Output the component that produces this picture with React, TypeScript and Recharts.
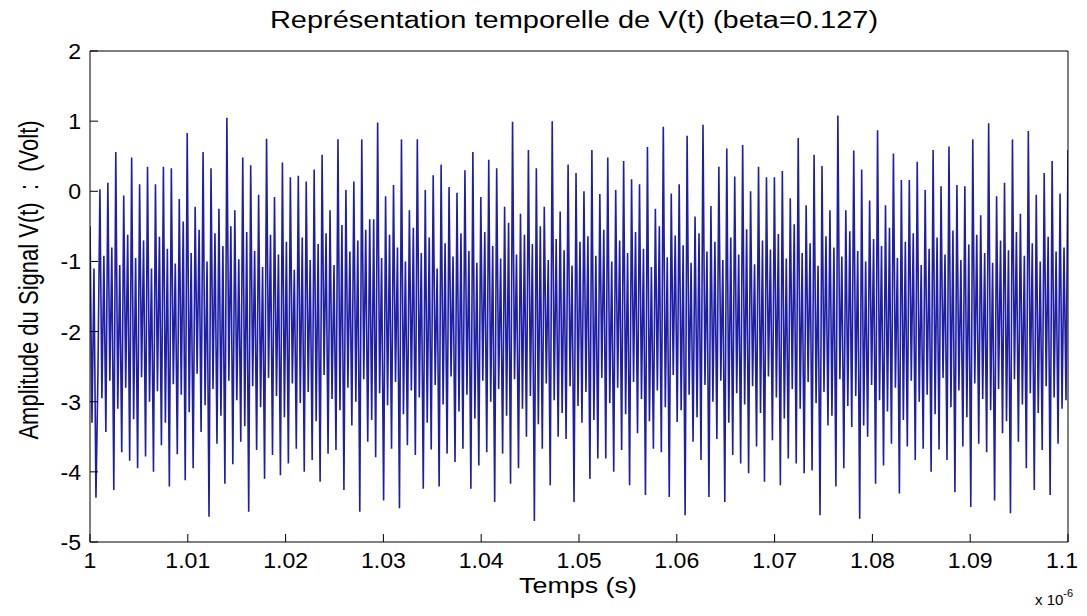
import React from 'react';
import { LineChart, Line, XAxis, YAxis } from 'recharts';

// axes
const T_START = 1;
const T_END = 1.1;
const xTicks = [1, 1.01, 1.02, 1.03, 1.04, 1.05, 1.06, 1.07, 1.08, 1.09, 1.1];
const xTickLabels = ['1', '1.01', '1.02', '1.03', '1.04', '1.05', '1.06', '1.07', '1.08', '1.09', '1.1'];
const yTicks = [-5, -4, -3, -2, -1, 0, 1, 2];

// V(t), one oscillation at a time (Volt)
const leadIn = [-0.5, -3.3, -1.1, -4.37, -2.6];

// tall spike tops
const peaks = [
    0.03, 0.12, 0.56, -0.06, 0.48, 0.10, 0.35, 0.10, 0.35, 0.33,
    -0.11, 0.83, -0.22, 0.56, 0.33, -0.25, 1.05, -0.27, 0.48, 0.37,
    -0.05, 0.75, -0.08, 0.41, 0.20, 0.22, 0.14, 0.31, 0.52, -0.27,
    0.74, 0.02, 0.14, 0.74, -0.40, 0.98, -0.07, 0.09, 0.74, -0.27,
    0.74, 0.02, 0.23, 0.38, 0.06, -0.02, 0.30, 0.56, -0.08, 0.45,
    0.33, -0.22, 0.99, -0.32, 0.59, 0.33, -0.22, 1.00, -0.29, 0.38,
    0.26, 0.00,
    0.59, -0.04, 0.48, 0.02, 0.43, 0.17, 0.10, 0.63, -0.25, 0.92,
    -0.03, 0.10, 0.79, -0.36, 0.95, -0.21, 0.35, 0.61, 0.21, 0.66,
    0.00, 0.35, 0.20, 0.20, 0.29, -0.10, 0.76, -0.20, 0.52, 0.36,
    -0.27, 1.08, -0.27, 0.58, 0.31, -0.13, 0.87, -0.20, 0.54, 0.16,
    0.16, 0.42, 0.02, 0.59, 0.07, 0.64, 0.09, 0.07, 0.74, -0.34,
    0.97, -0.07, 0.12, 0.74, -0.32, 0.86, -0.05, 0.26, 0.43, -0.03,
    0.59,
];

// lower edge of the dense band
const midLows = [
    -2.95, -2.70, -3.10, -2.80, -3.25, -2.65, -3.00, -2.85, -3.30, -2.75,
    -2.90, -3.15, -2.60, -3.05, -2.82, -3.20, -2.70, -2.98, -3.35, -2.78,
    -3.08, -2.66, -2.92, -3.22, -2.74, -3.02, -2.86, -3.28, -2.62, -2.96,
    -3.12, -2.80, -3.00, -2.68, -3.26, -2.88, -3.05, -2.72, -3.18, -2.84,
    -2.94, -3.30, -2.76, -3.04, -2.64, -3.14, -2.90, -3.24, -2.70, -3.00,
    -2.82, -3.20, -2.68, -3.10, -2.92, -3.32, -2.74, -2.98, -3.16, -2.78,
    -3.06, -2.86, -3.26, -2.66, -3.02, -2.80, -3.18, -2.72, -2.96, -3.28,
    -2.84, -3.08, -2.62, -3.12, -2.90, -3.22, -2.76, -3.00, -2.70, -3.30,
    -2.88, -3.04, -2.78, -3.16, -2.64, -2.94, -3.24, -2.82, -3.10, -2.72,
    -3.02, -2.86, -3.20, -2.68, -3.06, -2.92, -3.34, -2.76, -2.98, -3.14,
    -2.80, -3.26, -2.70, -3.00, -2.90, -3.18, -2.66, -3.08, -2.84, -3.22,
    -2.74, -2.96, -3.12, -2.82, -3.28, -2.68, -3.04, -2.88, -3.16, -2.78,
    -2.94, -3.10,
];

// upper edge of the dense band
const midHighs = [
    -0.92, -0.80, -1.05, -0.62, -0.95, -0.70, -1.10, -0.65, -0.82, -1.03,
    -0.43, -0.88, -0.55, -1.00, -0.60, -0.78, -0.50, -0.97, -0.58, -0.85,
    -1.08, -0.62, -0.90, -0.72, -1.12, -0.66, -0.98, -0.75, -0.60, -1.05,
    -0.48, -0.86, -0.70, -0.55, -0.40, -0.95, -0.62, -0.80, -1.00, -0.52,
    -0.88, -0.66, -1.10, -0.74, -0.93, -0.60, -0.85, -1.02, -0.58, -0.78,
    -0.96, -0.45, -0.90, -0.62, -0.75, -0.50, -0.98, -0.68, -0.84, -1.06,
    -0.72, -0.64, -0.92, -0.55, -1.00, -0.70, -0.88, -0.58, -0.82, -1.08,
    -0.50, -0.94, -0.63, -0.77, -1.02, -0.60, -0.86, -0.72, -0.98, -0.66,
    -0.90, -0.54, -1.04, -0.70, -0.83, -0.61, -0.96, -0.47, -0.88, -0.74,
    -1.06, -0.64, -0.80, -0.93, -0.57, -0.85, -1.00, -0.68, -0.78, -0.52,
    -0.95, -0.72, -0.60, -1.05, -0.82, -0.66, -0.90, -0.56, -0.98, -0.76,
    -0.62, -0.88, -1.02, -0.70, -0.84, -0.58, -0.92, -0.74, -1.00, -0.65,
    -0.86, -0.80,
];

// deep spike bottoms
const troughs = [
    -3.43, -4.26, -3.72, -3.84, -3.95, -3.78, -4.00, -3.62, -4.21, -3.75,
    -4.12, -3.95, -3.43, -4.64, -3.60, -4.17, -3.89, -3.57, -4.57, -3.69,
    -4.10, -3.76, -4.05, -3.88, -3.67, -4.00, -3.83, -4.14, -3.74, -3.69,
    -4.26, -3.34, -4.57, -3.57, -3.79, -4.41, -3.67, -4.52, -3.62, -3.76,
    -4.24, -3.68, -4.21, -3.74, -3.86, -3.67, -4.24, -3.91, -3.72, -4.43,
    -3.74, -4.17, -3.95, -3.50, -4.70, -3.67, -4.19, -3.50, -3.53, -4.43,
    -3.30,
    -4.10, -3.81, -3.81, -4.00, -3.69, -4.19, -3.45, -4.33, -3.67, -3.72,
    -4.36, -3.29, -4.62, -3.57, -3.83, -4.36, -3.53, -4.43, -3.76, -3.88,
    -4.02, -3.64, -4.14, -3.55, -4.19, -3.81, -3.88, -4.02, -3.98, -4.62,
    -3.34, -4.21, -3.95, -3.36, -4.67, -3.50, -4.17, -3.91, -3.60, -4.31,
    -3.64, -3.83, -3.67, -4.00, -3.68, -3.83, -4.29, -3.64, -4.50, -3.60,
    -3.72, -4.41, -3.45, -4.59, -3.57, -3.95, -4.26, -3.69, -4.33, -3.60,
    -2.98,
];

// samples in time order
const samples: number[] = [...leadIn];
troughs.forEach((tr, k) => {
    samples.push(peaks[k], midLows[k], midHighs[k], tr);
});
samples.push(peaks[peaks.length - 1]);

const dt = (T_END - T_START) / (samples.length - 1);
const chartData = samples.map((v, i) => ({ t: T_START + i * dt, v }));

const FONT = '"Liberation Sans", Arial, Helvetica, sans-serif';
const STRETCH = 1.22;
const LINE_COLOR = '#1e1ea6';

const BottomTick = ({ x, y, payload }: any) => {
    const idx = xTicks.indexOf(payload.value);
    const label = idx >= 0 ? xTickLabels[idx] : String(payload.value);
    // the last label sits at the picture's right edge: keep it inside
    const last = idx === xTicks.length - 1;
    return (
        <text
            transform={`translate(${last ? x + 10 : x},${y + 26}) scale(1.05,1)`}
            textAnchor={last ? 'end' : 'middle'}
            fontSize={22}
            fontFamily={FONT}
            fill="#000"
        >
            {label}
        </text>
    );
};

const LeftTick = ({ x, y, payload }: any) => (
    <text
        transform={`translate(${x - 9},${y + 8}) scale(1.05,1)`}
        textAnchor="end"
        fontSize={22}
        fontFamily={FONT}
        fill="#000"
    >
        {payload.value}
    </text>
);

const abs = (left: number, top: number): React.CSSProperties => ({
    position: 'absolute',
    left,
    top,
    fontFamily: FONT,
    color: '#000',
    whiteSpace: 'pre',
    lineHeight: 1,
});

export default function App() {
    const axisStroke = { stroke: '#000', strokeWidth: 1 };
    return (
        <div style={{ position: 'relative', width: 1071, height: 600, background: '#fff' }}>
            <style>{'html{overflow:hidden}.recharts-surface{overflow:visible}'}</style>
            <LineChart
                width={1071}
                height={600}
                data={chartData}
                margin={{ top: 42, right: 10, bottom: 36, left: 22 }}
            >
                <XAxis
                    dataKey="t"
                    type="number"
                    domain={[T_START, T_END]}
                    ticks={xTicks}
                    interval={0}
                    height={30}
                    tickSize={-8}
                    tickMargin={8}
                    axisLine={axisStroke}
                    tickLine={axisStroke}
                    tick={<BottomTick />}
                    allowDataOverflow
                />
                <XAxis
                    xAxisId="top"
                    orientation="top"
                    dataKey="t"
                    type="number"
                    domain={[T_START, T_END]}
                    ticks={xTicks}
                    interval={0}
                    height={1}
                    tickSize={-8}
                    axisLine={axisStroke}
                    tickLine={axisStroke}
                    tick={false}
                    allowDataOverflow
                />
                <YAxis
                    type="number"
                    domain={[-5, 2]}
                    ticks={yTicks}
                    interval={0}
                    width={60}
                    tickSize={-8}
                    tickMargin={8}
                    axisLine={axisStroke}
                    tickLine={axisStroke}
                    tick={<LeftTick />}
                    allowDataOverflow
                />
                <YAxis
                    yAxisId="right"
                    orientation="right"
                    type="number"
                    domain={[-5, 2]}
                    ticks={yTicks}
                    interval={0}
                    width={1}
                    tickSize={-8}
                    axisLine={axisStroke}
                    tickLine={axisStroke}
                    tick={false}
                    allowDataOverflow
                />
                {/* keeps the mirrored axes bound to the same data */}
                <Line
                    xAxisId="top"
                    yAxisId="right"
                    dataKey="v"
                    stroke="none"
                    dot={false}
                    activeDot={false}
                    isAnimationActive={false}
                />
                <Line
                    type="linear"
                    dataKey="v"
                    stroke={LINE_COLOR}
                    strokeWidth={1.6}
                    dot={false}
                    activeDot={false}
                    isAnimationActive={false}
                />
            </LineChart>

            <div style={{ ...abs(566, 12), fontSize: 23, transform: `translate(-50%,-50%) scaleX(1.26)` }}>
                Représentation temporelle de V(t) (beta=0.127)
            </div>
            <div style={{ ...abs(570, 578), fontSize: 22, transform: `translate(-50%,-50%) scaleX(${STRETCH})` }}>
                Temps (s)
            </div>
            <div style={{ ...abs(21, 272), fontSize: 22, transform: `translate(-50%,-50%) scaleX(${STRETCH}) rotate(-90deg)` }}>
                {'Amplitude du Signal V(t)  :  (Volt)'}
            </div>
            <div style={{ ...abs(1027, 584), fontSize: 15 }}>
                x 10<span style={{ fontSize: 11, position: 'relative', top: -8 }}>-6</span>
            </div>
        </div>
    );
}
